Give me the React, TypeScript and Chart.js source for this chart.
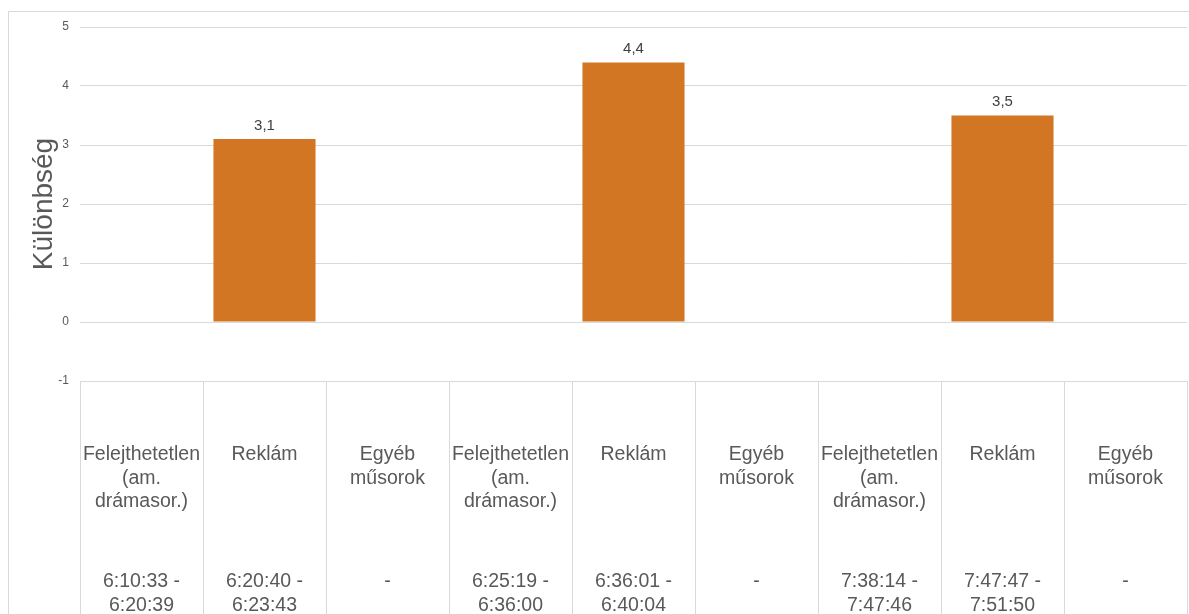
import React, { useEffect, useRef } from "react";
import { Chart, registerables } from "chart.js";

Chart.register(...registerables);

const programNames: string[][] = [
  ["Felejthetetlen", "(am.", "drámasor.)"],
  ["Reklám"],
  ["Egyéb", "műsorok"],
  ["Felejthetetlen", "(am.", "drámasor.)"],
  ["Reklám"],
  ["Egyéb", "műsorok"],
  ["Felejthetetlen", "(am.", "drámasor.)"],
  ["Reklám"],
  ["Egyéb", "műsorok"],
];

const timeRanges: string[][] = [
  ["6:10:33 -", "6:20:39"],
  ["6:20:40 -", "6:23:43"],
  ["-"],
  ["6:25:19 -", "6:36:00"],
  ["6:36:01 -", "6:40:04"],
  ["-"],
  ["7:38:14 -", "7:47:46"],
  ["7:47:47 -", "7:51:50"],
  ["-"],
];

const differences: (number | null)[] = [null, 3.1, null, null, 4.4, null, null, 3.5, null];

const yMin = -1;
const yMax = 5;
const yStep = 1;
const yTitle = "Különbség";

const FONT = "'Liberation Sans', Arial, sans-serif";
const TEXT = "#595959";
const GRID = "#d9d9d9";
const BAR = "#D27623";

const decorPlugin = {
  id: "decor",
  beforeDraw(chart: any) {
    const ctx = chart.ctx;
    ctx.save();
    ctx.strokeStyle = GRID;
    ctx.lineWidth = 1;
    ctx.beginPath();
    ctx.moveTo(8.5, chart.height + 5);
    ctx.lineTo(8.5, 11.5);
    ctx.lineTo(chart.width + 5, 11.5);
    ctx.stroke();
    ctx.restore();
  },
  afterDraw(chart: any) {
    const ctx = chart.ctx;
    const area = chart.chartArea;
    const xs = chart.scales.x;
    const n = programNames.length;
    const step = xs.getPixelForValue(1) - xs.getPixelForValue(0);
    ctx.save();
    // table separators
    ctx.strokeStyle = GRID;
    ctx.lineWidth = 1;
    ctx.beginPath();
    for (let k = 0; k <= n; k++) {
      const x = Math.round(k < n ? xs.getPixelForValue(k) - step / 2 : xs.getPixelForValue(n - 1) + step / 2) + 0.5;
      ctx.moveTo(x, area.bottom);
      ctx.lineTo(x, chart.height + 2);
    }
    ctx.stroke();
    // category labels
    ctx.fillStyle = TEXT;
    ctx.font = `19.5px ${FONT}`;
    ctx.textAlign = "center";
    ctx.textBaseline = "middle";
    for (let i = 0; i < n; i++) {
      const x = xs.getPixelForValue(i);
      programNames[i].forEach((line, j) => ctx.fillText(line, x, area.bottom + 74 + j * 23.5));
      timeRanges[i].forEach((line, j) => ctx.fillText(line, x, area.bottom + 201 + j * 23.5));
    }
    // data labels
    const meta = chart.getDatasetMeta(0);
    ctx.fillStyle = "#404040";
    ctx.font = `15px ${FONT}`;
    ctx.textBaseline = "bottom";
    meta.data.forEach((el: any, i: number) => {
      const v = differences[i];
      if (v === null || v === undefined) return;
      ctx.fillText(String(v).replace(".", ","), el.x, el.y - 6);
    });
    ctx.restore();
  },
};

export default function App() {
  const ref = useRef<HTMLCanvasElement | null>(null);
  useEffect(() => {
    if (!ref.current) return;
    const chart = new Chart(ref.current, {
      type: "bar",
      data: {
        labels: programNames.map((p, i) => p.join(" ") + " " + timeRanges[i].join(" ")),
        datasets: [
          {
            data: differences,
            backgroundColor: BAR,
            borderWidth: 0,
            categoryPercentage: 1,
            barPercentage: 0.83,
          },
        ],
      },
      options: {
        animation: false,
        responsive: true,
        maintainAspectRatio: false,
        layout: { padding: { left: 0, top: 27, right: 2, bottom: 233 } },
        plugins: { legend: { display: false }, tooltip: { enabled: false } },
        scales: {
          x: { display: false },
          y: {
            min: yMin,
            max: yMax,
            ticks: {
              stepSize: yStep,
              color: TEXT,
              padding: 11,
              font: { family: FONT, size: 12 },
            },
            grid: { color: GRID, drawTicks: false, lineWidth: 1 },
            border: { display: false },
            title: {
              display: true,
              text: yTitle,
              color: TEXT,
              font: { family: FONT, size: 28, weight: "normal" },
              padding: { top: 27, bottom: 0 },
            },
            afterFit(scale: any) {
              scale.width = 80;
            },
          },
        },
      },
      plugins: [decorPlugin],
    } as any);
    return () => chart.destroy();
  }, []);
  return (
    <div style={{ position: "fixed", left: 0, top: 0, width: 1189, height: 614, background: "#fff" }}>
      <canvas ref={ref} />
    </div>
  );
}
